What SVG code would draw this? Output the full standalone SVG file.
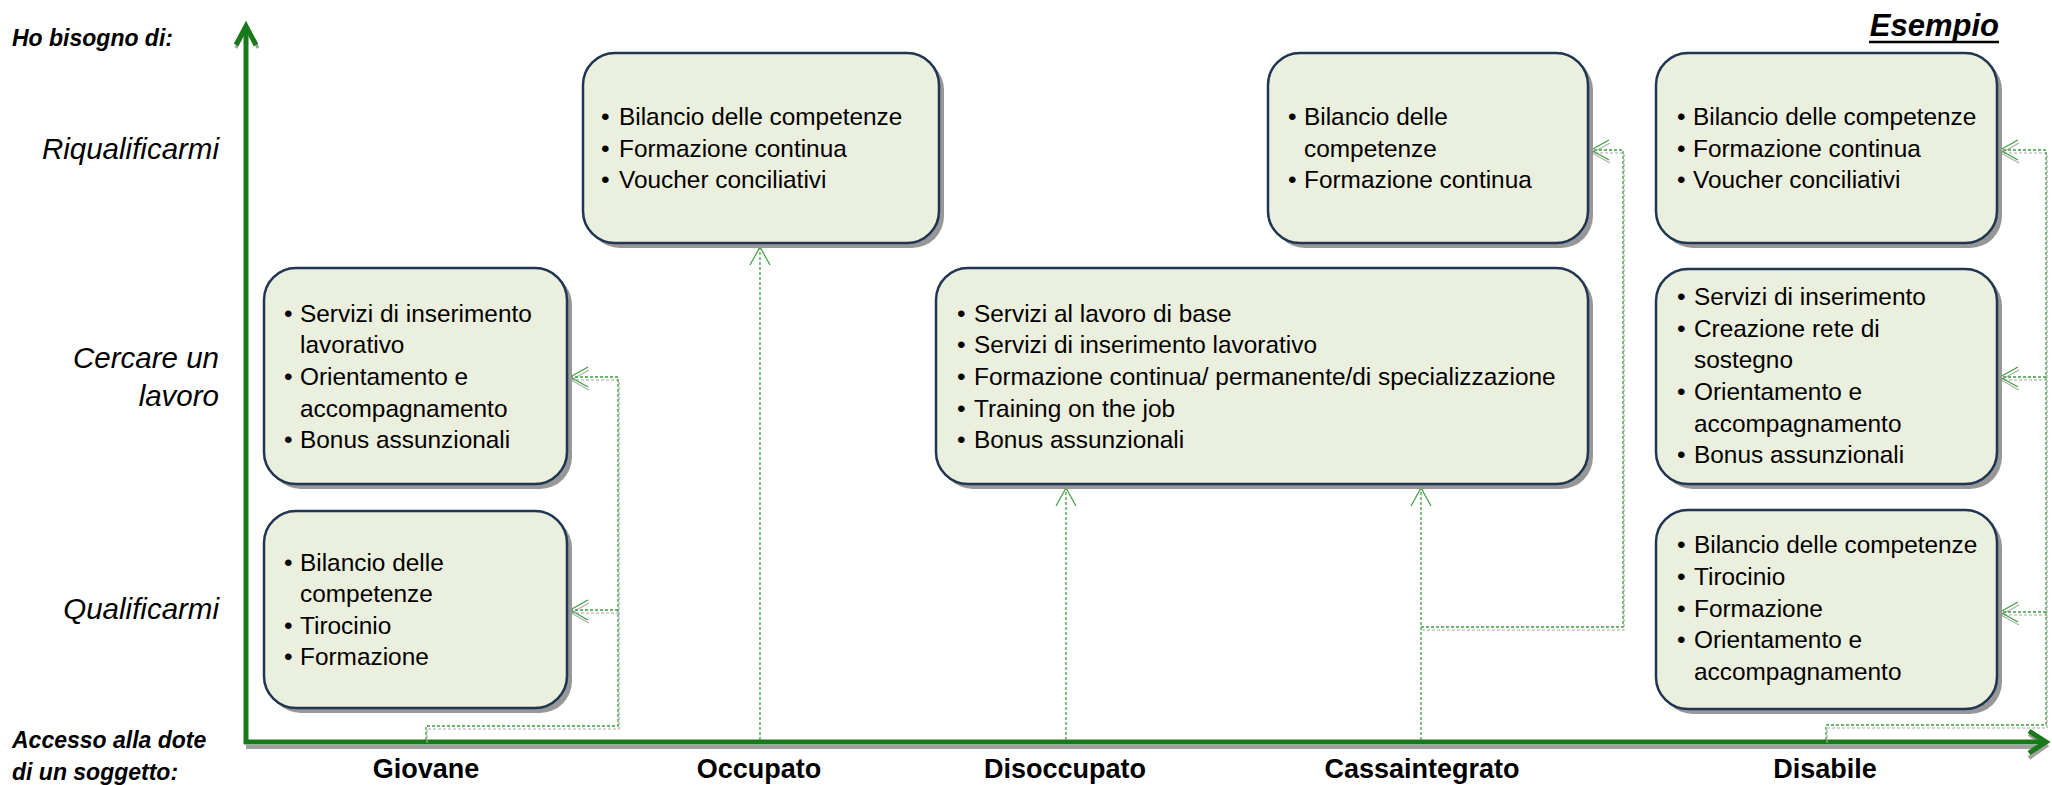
<svg xmlns="http://www.w3.org/2000/svg" width="2052" height="785" viewBox="0 0 2052 785">
<style>
.box{fill:#EBEFDD;stroke:#1F3552;stroke-width:2.5}
.shd{fill:#979797}
.t{font-family:"Liberation Sans",Arial,sans-serif;font-size:24.4px;fill:#000}
.row{font-family:"Liberation Sans",Arial,sans-serif;font-size:29.5px;font-style:italic;fill:#000;text-anchor:end}
.hd{font-family:"Liberation Sans",Arial,sans-serif;font-size:23px;font-style:italic;font-weight:bold;fill:#000}
.cat{font-family:"Liberation Sans",Arial,sans-serif;font-size:27px;font-weight:bold;fill:#000;text-anchor:middle}
.cn{fill:none;stroke:#3E9E3E;stroke-width:1.3;stroke-dasharray:3 2}
.cs{fill:none;stroke:#A8A8A8;stroke-width:1.2;stroke-dasharray:3 2}
</style>
<defs>
<marker id="ag" viewBox="-20 -12 22 24" refX="0" refY="0" markerWidth="22" markerHeight="24" markerUnits="userSpaceOnUse" orient="auto"><path d="M-18,-10 L0,0 L-18,10" fill="none" stroke="#3E9E3E" stroke-width="1.2"/></marker>
<marker id="as" viewBox="-20 -12 22 24" refX="0" refY="0" markerWidth="22" markerHeight="24" markerUnits="userSpaceOnUse" orient="auto"><path d="M-18,-10 L0,0 L-18,10" fill="none" stroke="#B0B0B0" stroke-width="1.2"/></marker>
</defs>
<rect width="2052" height="785" fill="#fff"/>

<g id="labels">
<text class="hd" x="12" y="46">Ho bisogno di:</text>
<text class="row" x="219" y="159">Riqualificarmi</text>
<text class="row" x="219" y="368">Cercare un</text>
<text class="row" x="219" y="406">lavoro</text>
<text class="row" x="219" y="619">Qualificarmi</text>
<text class="hd" x="12" y="748">Accesso alla dote</text>
<text class="hd" x="12" y="780">di un soggetto:</text>
<text class="hd" x="1999" y="36" style="font-size:31px;text-anchor:end">Esempio</text>
<line x1="1869" y1="42" x2="1999" y2="42" stroke="#000" stroke-width="2.5"/>
<text class="cat" x="426" y="778">Giovane</text>
<text class="cat" x="759" y="778">Occupato</text>
<text class="cat" x="1065" y="778">Disoccupato</text>
<text class="cat" x="1422" y="778">Cassaintegrato</text>
<text class="cat" x="1825" y="778">Disabile</text>
</g>

<g id="axes">
<line x1="246" y1="747" x2="2040" y2="747" stroke="#A0A0A0" stroke-width="4"/>
<path d="M2029,734 L2046,746 L2029,758" fill="none" stroke="#A0A0A0" stroke-width="4"/>
<path d="M236,48 L247,27 L258,48" fill="none" stroke="#A0A0A0" stroke-width="3"/>
<line x1="246" y1="744" x2="246" y2="27" stroke="#187A18" stroke-width="5"/>
<path d="M236,45 L246,26 L256,45" fill="none" stroke="#187A18" stroke-width="5" stroke-linejoin="miter"/>
<line x1="244" y1="742" x2="2042" y2="742" stroke="#187A18" stroke-width="5"/>
<path d="M2029,731 L2046,742 L2029,753" fill="none" stroke="#187A18" stroke-width="5" stroke-linejoin="miter"/>
</g>

<g id="connectors">
<g transform="translate(1,3)">
<path class="cs" d="M426,740 V726 H618 V377 H570" marker-end="url(#as)"/>
<path class="cs" d="M618,610 H570" marker-end="url(#as)"/>
<path class="cs" d="M1421,627 H1623 V150 H1591" marker-end="url(#as)"/>
<path class="cs" d="M1826,740 V725 H2046 V150 H2000" marker-end="url(#as)"/>
<path class="cs" d="M2046,377 H2000" marker-end="url(#as)"/>
<path class="cs" d="M2046,612 H2000" marker-end="url(#as)"/>
</g>
<path class="cn" d="M426,740 V726 H618 V377 H570" marker-end="url(#ag)"/>
<path class="cn" d="M618,610 H570" marker-end="url(#ag)"/>
<path class="cn" d="M760,740 V247" marker-end="url(#ag)"/>
<path class="cn" d="M1066,740 V488" marker-end="url(#ag)"/>
<path class="cn" d="M1421,740 V488" marker-end="url(#ag)"/>
<path class="cn" d="M1421,627 H1623 V150 H1591" marker-end="url(#ag)"/>
<path class="cn" d="M1826,740 V725 H2046 V150 H2000" marker-end="url(#ag)"/>
<path class="cn" d="M2046,377 H2000" marker-end="url(#ag)"/>
<path class="cn" d="M2046,612 H2000" marker-end="url(#ag)"/>
</g>

<g id="box-occupato">
<rect class="shd" x="588" y="58" width="356" height="190" rx="32"/>
<rect class="box" x="583" y="53" width="356" height="190" rx="32"/>
<text class="t" x="601" y="125">•</text><text class="t" x="619" y="125">Bilancio delle competenze</text>
<text class="t" x="601" y="157">•</text><text class="t" x="619" y="157">Formazione continua</text>
<text class="t" x="601" y="188">•</text><text class="t" x="619" y="188">Voucher conciliativi</text>
</g>

<g id="box-giovane-lavoro">
<rect class="shd" x="269" y="273" width="303" height="216" rx="32"/>
<rect class="box" x="264" y="268" width="303" height="216" rx="32"/>
<text class="t" x="284" y="322">•</text><text class="t" x="300" y="322">Servizi di inserimento</text>
<text class="t" x="300" y="353">lavorativo</text>
<text class="t" x="284" y="385">•</text><text class="t" x="300" y="385">Orientamento e</text>
<text class="t" x="300" y="417">accompagnamento</text>
<text class="t" x="284" y="448">•</text><text class="t" x="300" y="448">Bonus assunzionali</text>
</g>

<g id="box-giovane-qualifica">
<rect class="shd" x="269" y="516" width="303" height="197" rx="32"/>
<rect class="box" x="264" y="511" width="303" height="197" rx="32"/>
<text class="t" x="284" y="571">•</text><text class="t" x="300" y="571">Bilancio delle</text>
<text class="t" x="300" y="602">competenze</text>
<text class="t" x="284" y="634">•</text><text class="t" x="300" y="634">Tirocinio</text>
<text class="t" x="284" y="665">•</text><text class="t" x="300" y="665">Formazione</text>
</g>

<g id="box-disoccupato">
<rect class="shd" x="941" y="273" width="652" height="216" rx="32"/>
<rect class="box" x="936" y="268" width="652" height="216" rx="32"/>
<text class="t" x="957" y="322">•</text><text class="t" x="974" y="322">Servizi al lavoro di base</text>
<text class="t" x="957" y="353">•</text><text class="t" x="974" y="353">Servizi di inserimento lavorativo</text>
<text class="t" x="957" y="385">•</text><text class="t" x="974" y="385">Formazione continua/ permanente/di specializzazione</text>
<text class="t" x="957" y="417">•</text><text class="t" x="974" y="417">Training on the job</text>
<text class="t" x="957" y="448">•</text><text class="t" x="974" y="448">Bonus assunzionali</text>
</g>

<g id="box-cassaintegrato">
<rect class="shd" x="1273" y="58" width="320" height="190" rx="32"/>
<rect class="box" x="1268" y="53" width="320" height="190" rx="32"/>
<text class="t" x="1288" y="125">•</text><text class="t" x="1304" y="125">Bilancio delle</text>
<text class="t" x="1304" y="157">competenze</text>
<text class="t" x="1288" y="188">•</text><text class="t" x="1304" y="188">Formazione continua</text>
</g>

<g id="box-disabile-riqualifica">
<rect class="shd" x="1661" y="58" width="341" height="190" rx="32"/>
<rect class="box" x="1656" y="53" width="341" height="190" rx="32"/>
<text class="t" x="1677" y="125">•</text><text class="t" x="1693" y="125">Bilancio delle competenze</text>
<text class="t" x="1677" y="157">•</text><text class="t" x="1693" y="157">Formazione continua</text>
<text class="t" x="1677" y="188">•</text><text class="t" x="1693" y="188">Voucher conciliativi</text>
</g>

<g id="box-disabile-lavoro">
<rect class="shd" x="1661" y="274" width="341" height="215" rx="32"/>
<rect class="box" x="1656" y="269" width="341" height="215" rx="32"/>
<text class="t" x="1677" y="305">•</text><text class="t" x="1694" y="305">Servizi di inserimento</text>
<text class="t" x="1677" y="337">•</text><text class="t" x="1694" y="337">Creazione rete di</text>
<text class="t" x="1694" y="368">sostegno</text>
<text class="t" x="1677" y="400">•</text><text class="t" x="1694" y="400">Orientamento e</text>
<text class="t" x="1694" y="432">accompagnamento</text>
<text class="t" x="1677" y="463">•</text><text class="t" x="1694" y="463">Bonus assunzionali</text>
</g>

<g id="box-disabile-qualifica">
<rect class="shd" x="1661" y="515" width="341" height="199" rx="32"/>
<rect class="box" x="1656" y="510" width="341" height="199" rx="32"/>
<text class="t" x="1677" y="553">•</text><text class="t" x="1694" y="553">Bilancio delle competenze</text>
<text class="t" x="1677" y="585">•</text><text class="t" x="1694" y="585">Tirocinio</text>
<text class="t" x="1677" y="617">•</text><text class="t" x="1694" y="617">Formazione</text>
<text class="t" x="1677" y="648">•</text><text class="t" x="1694" y="648">Orientamento e</text>
<text class="t" x="1694" y="680">accompagnamento</text>
</g>
</svg>
